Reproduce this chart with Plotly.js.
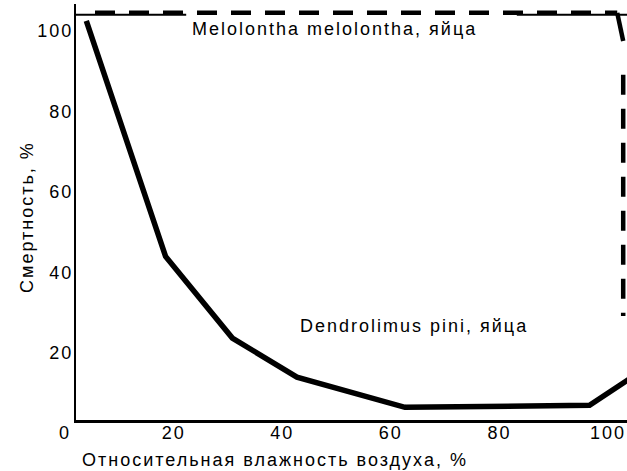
<!DOCTYPE html>
<html>
<head>
<meta charset="utf-8">
<script src="https://cdn.plot.ly/plotly-3.0.1.min.js"></script>
<style>
html, body { margin: 0; padding: 0; background: #fff; }
#chart { width: 627px; height: 471px; }
#chart svg text { letter-spacing: 2px; }
</style>
</head>
<body>
<div id="chart"></div>
<script>
// Dendrolimus pini eggs (solid line)
const piniHumidity = [3.9, 18.5, 30.8, 42.7, 62.6, 96.6, 104];
const piniMortality = [102.5, 44, 23.7, 14.0, 6.5, 7.0, 13.6];

// Melolontha melolontha eggs (dashed line; corner piece drawn solid)
const meloHumidity = [5.5, 101.7, 102.8, 102.8, 102.8];
const meloMortality = [104.5, 104.5, 97.5, 89.1, 29.2];

const xTicks = [20, 40, 60, 80, 100];
const yTicks = [20, 40, 60, 80, 100];

const labelPini = 'Dendrolimus pini, яйца';
const labelMelo = 'Melolontha melolontha, яйца';
const xTitle = 'Относительная влажность воздуха, %';
const yTitle = 'Смертность, %';

const FONT = 'Liberation Sans, Arial, Helvetica, sans-serif';
const DASH = '20px,14px';

function seg(a, b, dash) {
  return {
    x: meloHumidity.slice(a, b + 1), y: meloMortality.slice(a, b + 1),
    mode: 'lines', name: labelMelo,
    line: { color: '#000', width: 4.5, dash: dash },
    hoverinfo: 'skip'
  };
}

const traces = [
  seg(0, 1, DASH),
  seg(1, 2, 'solid'),
  seg(3, 4, DASH),
  {
    x: piniHumidity, y: piniMortality, mode: 'lines', name: labelPini,
    line: { color: '#000', width: 5.5 },
    hoverinfo: 'skip'
  }
];

const layout = {
  width: 627, height: 471,
  margin: { l: 76, r: 0, t: 4, b: 51, pad: 0 },
  paper_bgcolor: '#fff', plot_bgcolor: '#fff',
  showlegend: false,
  font: { family: FONT, size: 18, color: '#000' },
  xaxis: {
    range: [2.0, 103.5], tickvals: xTicks, ticktext: xTicks.map(String),
    showgrid: false, zeroline: false, ticks: '', showline: true,
    linecolor: '#000', linewidth: 2.5, ticklabelstandoff: -5,
    tickfont: { family: FONT, size: 18, color: '#000' }
  },
  yaxis: {
    range: [3.35, 106.7], tickvals: yTicks, ticktext: yTicks.map(String),
    showgrid: false, zeroline: false, ticks: '', showline: true,
    linecolor: '#000', linewidth: 2, ticklabelstandoff: -3,
    tickfont: { family: FONT, size: 18, color: '#000' }
  },
  shapes: [
    { type: 'line', xref: 'paper', yref: 'y', x0: 0, x1: 0.2, y0: 104.0, y1: 104.0,
      line: { color: '#000', width: 2 } },
    { type: 'line', xref: 'paper', yref: 'y', x0: 0.8, x1: 1, y0: 104.0, y1: 104.0,
      line: { color: '#000', width: 2 } }
  ],
  annotations: [
    { text: labelMelo, xref: 'x', yref: 'y', x: 49.7, y: 100.6, showarrow: false,
      xanchor: 'center', yanchor: 'middle', font: { family: FONT, size: 18, color: '#000' } },
    { text: labelPini, xref: 'x', yref: 'y', x: 64.3, y: 26.6, showarrow: false,
      xanchor: 'center', yanchor: 'middle', font: { family: FONT, size: 18, color: '#000' } },
    { text: '0', xref: 'paper', yref: 'paper', x: -0.02, y: -0.031, showarrow: false,
      xanchor: 'center', yanchor: 'middle', font: { family: FONT, size: 18, color: '#000' } },
    { text: xTitle, xref: 'paper', yref: 'paper', x: 0.361, y: -0.096, showarrow: false,
      xanchor: 'center', yanchor: 'middle', font: { family: FONT, size: 18, color: '#000' } },
    { text: yTitle, xref: 'paper', yref: 'paper', x: -0.09, y: 0.489, showarrow: false,
      textangle: -90, xanchor: 'center', yanchor: 'middle',
      font: { family: FONT, size: 18, color: '#000' } }
  ]
};

Plotly.newPlot('chart', traces, layout, { staticPlot: true, displayModeBar: false });
</script>
</body>
</html>
